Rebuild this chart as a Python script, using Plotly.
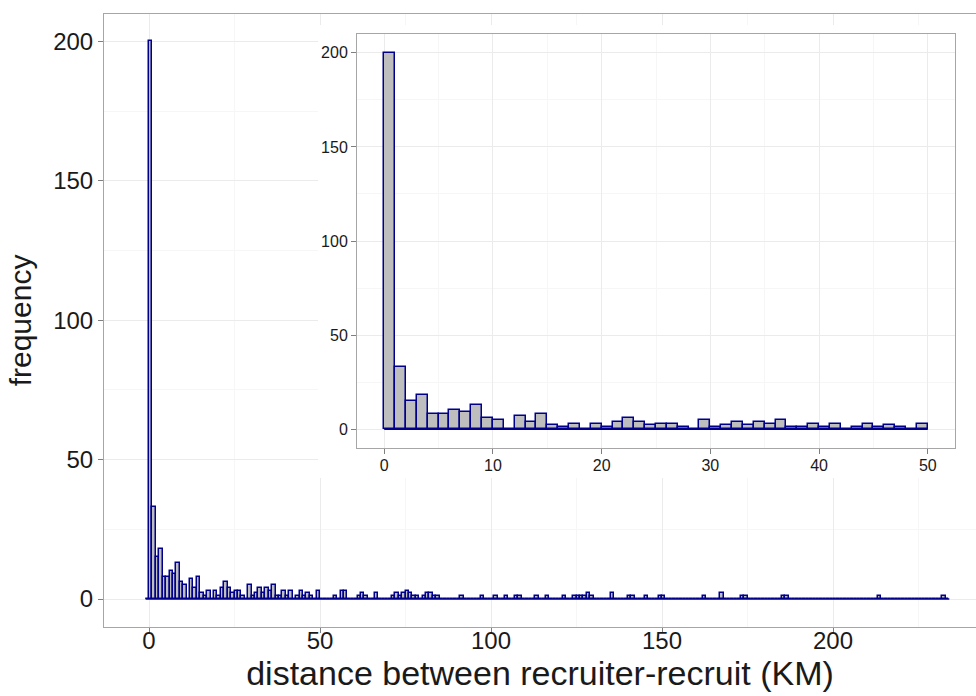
import plotly.graph_objects as go

# ---------------- data ----------------
# inset: counts per 1-km bin, bins [k, k+1) for k = 0..49
inset_bins = list(range(0, 50))
inset_counts = [200, 33, 15, 18, 8, 8, 10, 9, 13, 6,
                5, 0, 7, 4, 8, 2, 1, 3, 0, 3,
                1, 4, 6, 4, 2, 3, 3, 1, 0, 5,
                1, 2, 4, 2, 4, 3, 5, 1, 1, 3,
                1, 3, 0, 1, 3, 1, 2, 1, 0, 3]

# main histogram: same 1-km bins, -1 .. 233 (non-zero tail beyond 50 listed here)
tail_bins = [54, 56, 57, 61, 62, 63, 66, 71, 72, 73, 74, 75, 76, 77, 78,
             80, 81, 82, 83, 84, 91, 97, 101, 104, 107, 108, 113, 116, 121,
             124, 125, 126, 127, 128, 129, 135, 140, 141, 145, 149, 150,
             162, 167, 173, 174, 185, 186, 213, 232]
tail_counts = [1, 3, 3, 1, 2, 1, 2, 1, 2, 1, 2, 3, 2, 1, 1,
               1, 2, 2, 1, 1, 1, 1, 1, 1, 1, 1, 1, 1, 1,
               1, 1, 1, 1, 2, 1, 2, 1, 1, 1, 1, 1,
               1, 2, 1, 1, 1, 1, 1, 1]
main_first_bin = -1
main_last_bin = 233

main_x_ticks = [0, 50, 100, 150, 200]
inset_x_ticks = [0, 10, 20, 30, 40, 50]
y_ticks = [0, 50, 100, 150, 200]

x_title = "distance between recruiter-recruit (KM)"
y_title = "frequency"

# build the main series from the data
main_bins = list(range(main_first_bin, main_last_bin + 1))
count_map = {b: c for b, c in zip(inset_bins, inset_counts)}
count_map.update({b: c for b, c in zip(tail_bins, tail_counts)})
main_counts = [count_map.get(b, 0) for b in main_bins]

# ---------------- styling ----------------
FILL = "#bebebe"
EDGE = "#00008b"
GRID = "#ebebeb"
MINOR = "#f6f6f6"
FRAME = "#a6a6a6"
TXT = "#1a1a1a"
FONT = "Liberation Sans, Arial, sans-serif"

W, H = 976, 696
ML, MT, MB = 104, 14, 69
PW = W - ML
PH = H - MT - MB


def px_x(p):
    return (p - ML) / PW


def px_y(p):
    return (H - MB - p) / PH


fig = go.Figure()

# main histogram
fig.add_trace(go.Scatter(
    x=[main_bins[0], main_bins[-1] + 1], y=[0, 0], mode="lines",
    line=dict(color=EDGE, width=1.5), hoverinfo="skip", showlegend=False,
    xaxis="x", yaxis="y"))
fig.add_trace(go.Bar(
    x=main_bins, y=main_counts, offset=0, width=1,
    marker=dict(color=FILL, line=dict(color=EDGE, width=1.5)),
    showlegend=False, xaxis="x", yaxis="y"))

# white backdrop subplot for the inset
fig.add_trace(go.Scatter(x=[], y=[], xaxis="x2", yaxis="y2", showlegend=False))

# inset histogram
fig.add_trace(go.Scatter(
    x=[inset_bins[0], inset_bins[-1] + 1], y=[0, 0], mode="lines",
    line=dict(color=EDGE, width=1.5), hoverinfo="skip", showlegend=False,
    xaxis="x3", yaxis="y3"))
fig.add_trace(go.Bar(
    x=inset_bins, y=inset_counts, offset=0, width=1,
    marker=dict(color=FILL, line=dict(color=EDGE, width=1.5)),
    showlegend=False, xaxis="x3", yaxis="y3"))

fig.add_shape(type="rect", xref="x2", yref="y2", x0=0, x1=1, y0=0, y1=1,
              fillcolor="white", line=dict(width=0), layer="below")

axis_common = dict(showline=True, linecolor=FRAME, linewidth=1,
                   ticks="outside", ticklen=5, tickcolor="#7f7f7f", tickwidth=1,
                   showgrid=True, gridcolor=GRID, gridwidth=1, zeroline=False,
                   automargin=False)

fig.update_layout(
    width=W, height=H,
    margin=dict(l=ML, r=0, t=MT, b=MB, pad=0),
    paper_bgcolor="white", plot_bgcolor="white",
    font=dict(family=FONT, color=TXT),
    bargap=0,
    xaxis=dict(domain=[0, 1], range=[-13.16, 241.8], tickvals=main_x_ticks,
               mirror=True, tickfont=dict(size=24, color=TXT), ticklabelstandoff=-13,
               title=dict(text=x_title, font=dict(size=34, color=TXT), standoff=4),
               minor=dict(dtick=25, tick0=0, showgrid=True, gridcolor=MINOR, ticks=""),
               **axis_common),
    yaxis=dict(domain=[0, 1], range=[-10.04, 209.8], tickvals=y_ticks,
               mirror=False, tickfont=dict(size=24, color=TXT),
               title=dict(text=y_title, font=dict(size=30, color=TXT), standoff=12),
               minor=dict(dtick=25, tick0=0, showgrid=True, gridcolor=MINOR, ticks=""),
               **axis_common),
    xaxis2=dict(domain=[px_x(318), 1.0], range=[0, 1], visible=False,
                anchor="y2", showgrid=False, zeroline=False),
    yaxis2=dict(domain=[px_y(478), px_y(25)], range=[0, 1], visible=False,
                anchor="x2", showgrid=False, zeroline=False),
    xaxis3=dict(domain=[px_x(357), px_x(955)], range=[-2.5, 52.5], anchor="y3",
                tickvals=inset_x_ticks, mirror=True, ticklabelstandoff=-2,
                tickfont=dict(size=16, color=TXT),
                minor=dict(dtick=5, tick0=0, showgrid=True, gridcolor=MINOR, ticks=""),
                **axis_common),
    yaxis3=dict(domain=[px_y(448), px_y(34)], range=[-10, 210], anchor="x3",
                tickvals=y_ticks, mirror=True,
                tickfont=dict(size=16, color=TXT),
                minor=dict(dtick=25, tick0=0, showgrid=True, gridcolor=MINOR, ticks=""),
                **axis_common),
)

fig.write_html("out.html", config={"displayModeBar": False},
               post_script="document.body.style.margin='0';document.body.style.overflow='hidden';")
